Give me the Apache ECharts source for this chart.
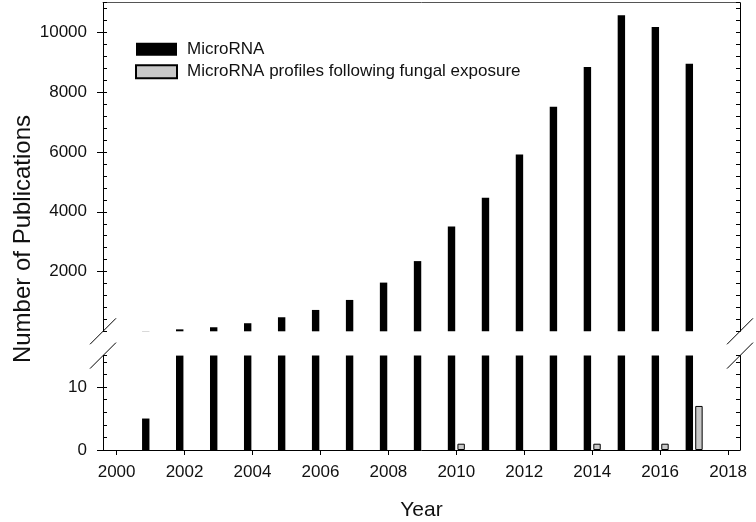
<!DOCTYPE html>
<html>
<head>
<meta charset="utf-8">
<script src="https://cdn.jsdelivr.net/npm/echarts@6/dist/echarts.min.js"></script>
<style>html,body{margin:0;padding:0;background:#fff}#c{width:756px;height:522px}</style>
</head>
<body>
<div id="c"></div>
<script>
var years = [2001, 2002, 2003, 2004, 2005, 2006, 2007, 2008, 2009, 2010, 2011, 2012, 2013, 2014, 2015, 2016, 2017];
var microRNA = [5, 65, 135, 270, 470, 715, 1050, 1630, 2350, 3510, 4470, 5920, 7520, 8850, 10580, 10190, 8960];
var fungalYears = [2010, 2014, 2016, 2017];
var fungalValues = [1, 1, 1, 7];
var xTicks = [2000, 2002, 2004, 2006, 2008, 2010, 2012, 2014, 2016, 2018];
var upperTicks = [2000, 4000, 6000, 8000, 10000];
var lowerTicks = [0, 10];

var FONT = 'Liberation Sans, Arial, sans-serif';
var X_MIN = 1999.6, X_MAX = 2018.35;
var U_MAX = 11000, L_MAX = 15;

var miPairs = years.map(function (y, i) { return [y, microRNA[i]]; });
var fgPairs = fungalYears.map(function (y, i) { return [y, fungalValues[i]]; });

var chart = echarts.init(document.getElementById('c'), null, {renderer: 'canvas'});

function plain(v) { return String(v); }

function minorAxis(grid, pos, max, interval, showLine) {
  return {
    type: 'value', gridIndex: grid, position: pos, min: 0, max: max, interval: interval,
    axisLine: {show: showLine, onZero: false, lineStyle: {color: '#000', width: 1}},
    axisTick: {show: true, inside: true, length: 4, lineStyle: {color: '#000'}},
    axisLabel: {show: false}, splitLine: {show: false}
  };
}

var option = {
  animation: false,
  backgroundColor: '#fff',
  textStyle: {fontFamily: FONT},
  grid: [
    {left: 103, right: 16, top: 2.7, bottom: 190.7},
    {left: 103, right: 16, top: 355.6, bottom: 71.3}
  ],
  legend: {
    orient: 'vertical', left: 130, top: 35.7,
    itemWidth: 41, itemHeight: 13, itemGap: 5.5, icon: 'rect',
    textStyle: {fontFamily: FONT, fontSize: 17, color: '#111', lineHeight: 17, padding: [0, 0, 0, 5]},
    data: ['MicroRNA', 'MicroRNA profiles following fungal exposure']
  },
  xAxis: [
    {
      type: 'value', gridIndex: 0, position: 'top', min: X_MIN, max: X_MAX,
      axisLine: {show: true, onZero: false, lineStyle: {color: '#555', width: 1}},
      axisTick: {show: false}, axisLabel: {show: false}, splitLine: {show: false}
    },
    {
      type: 'value', gridIndex: 1, position: 'bottom', min: X_MIN, max: X_MAX,
      axisLine: {show: true, onZero: false, lineStyle: {color: '#000', width: 1}},
      axisTick: {show: true, length: 5, customValues: xTicks, lineStyle: {color: '#000'}},
      axisLabel: {show: true, customValues: xTicks, formatter: plain, fontSize: 17, color: '#111', margin: 14, fontFamily: FONT},
      splitLine: {show: false},
      name: 'Year', nameLocation: 'middle', nameGap: 50,
      nameTextStyle: {fontSize: 21, color: '#111', fontFamily: FONT}
    }
  ],
  yAxis: [
    {
      type: 'value', gridIndex: 0, position: 'left', min: 0, max: U_MAX,
      axisLine: {show: true, onZero: false, lineStyle: {color: '#000', width: 1}},
      axisTick: {show: true, length: 6, customValues: upperTicks, lineStyle: {color: '#000'}},
      axisLabel: {show: true, customValues: upperTicks, formatter: plain, fontSize: 17, color: '#111', margin: 16, fontFamily: FONT},
      splitLine: {show: false}
    },
    minorAxis(0, 'left', U_MAX, 400, false),
    minorAxis(0, 'right', U_MAX, 400, true),
    {
      type: 'value', gridIndex: 1, position: 'left', min: 0, max: L_MAX,
      axisLine: {show: true, onZero: false, lineStyle: {color: '#000', width: 1}},
      axisTick: {show: true, length: 6, customValues: lowerTicks, lineStyle: {color: '#000'}},
      axisLabel: {show: true, customValues: lowerTicks, formatter: plain, fontSize: 17, color: '#111', margin: 16, fontFamily: FONT},
      splitLine: {show: false}
    },
    minorAxis(1, 'left', L_MAX, 2, false),
    minorAxis(1, 'right', L_MAX, 2, true)
  ],
  series: [
    {
      name: 'MicroRNA', type: 'bar', xAxisIndex: 1, yAxisIndex: 3,
      data: miPairs, barWidth: 7.4, barGap: '30%', clip: true,
      itemStyle: {color: '#000'}
    },
    {
      name: 'MicroRNA profiles following fungal exposure', type: 'bar', xAxisIndex: 1, yAxisIndex: 3,
      data: fgPairs, barWidth: 7.4, barGap: '30%', clip: true,
      itemStyle: {color: '#c8c8c8', borderColor: '#000', borderWidth: 1}
    },
    {
      name: 'upper_mi', type: 'bar', xAxisIndex: 0, yAxisIndex: 0,
      data: miPairs, barWidth: 7.4, barGap: '30%', clip: true,
      itemStyle: {color: '#000'}
    },
    {
      name: 'upper_fg', type: 'bar', xAxisIndex: 0, yAxisIndex: 0,
      data: fgPairs, barWidth: 7.4, barGap: '30%', clip: true,
      itemStyle: {color: 'rgba(0,0,0,0)', borderWidth: 0}
    }
  ]
};
chart.setOption(option);

// break marks and rotated y title
var pUL = chart.convertToPixel({xAxisIndex: 0, yAxisIndex: 0}, [X_MIN, 0]);
var pUR = chart.convertToPixel({xAxisIndex: 0, yAxisIndex: 0}, [X_MAX, 0]);
var pLL = chart.convertToPixel({xAxisIndex: 1, yAxisIndex: 3}, [X_MIN, L_MAX]);
var pLR = chart.convertToPixel({xAxisIndex: 1, yAxisIndex: 3}, [X_MAX, L_MAX]);
var h = 13;
function slash(p) {
  return {
    type: 'line', silent: true, z: 100,
    shape: {x1: p[0] - h, y1: p[1] + h, x2: p[0] + h, y2: p[1] - h},
    style: {stroke: '#000', lineWidth: 1}
  };
}
chart.setOption({
  graphic: [
    slash(pUL), slash(pUR), slash(pLL), slash(pLR),
    {
      type: 'text', x: 23, y: 239, rotation: Math.PI / 2, silent: true,
      style: {text: 'Number of Publications', fontSize: 24, fontFamily: FONT, fill: '#111', align: 'center', verticalAlign: 'middle'}
    }
  ]
});
</script>
</body>
</html>
